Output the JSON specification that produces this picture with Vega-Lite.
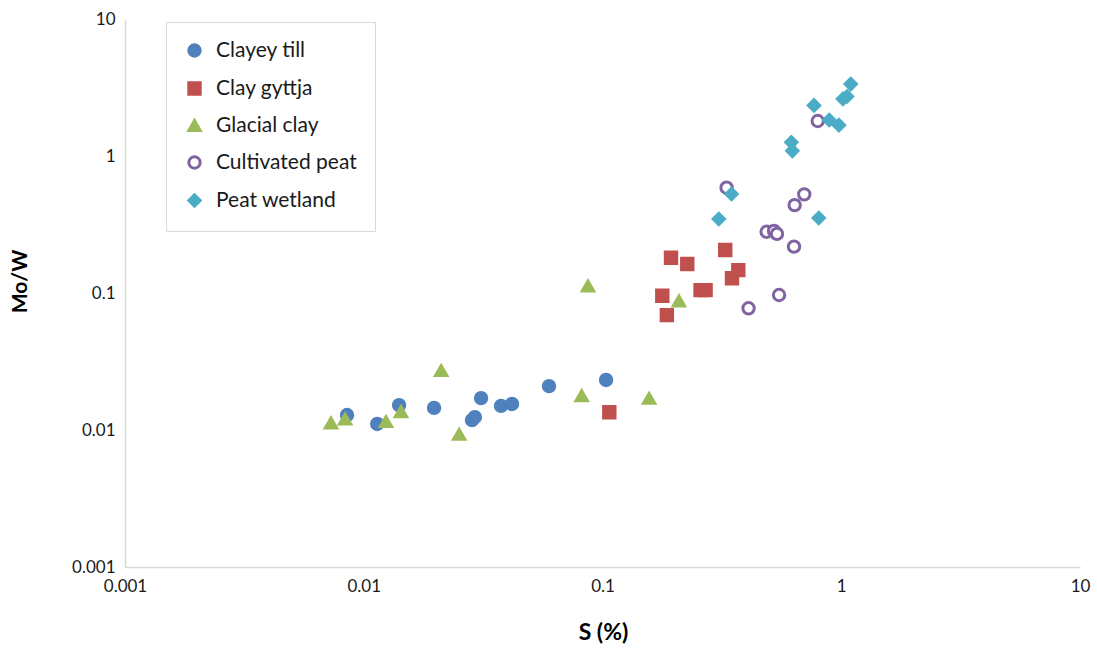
{
  "$schema": "https://vega.github.io/schema/vega-lite/v6.json",
  "width": 955,
  "height": 548,
  "autosize": {"type": "none"},
  "padding": {"left": 125, "top": 19, "right": 17, "bottom": 86},
  "background": "white",
  "config": {
    "view": {"stroke": null},
    "font": "Lato",
    "legend": {
      "orient": "none",
      "legendX": 41,
      "legendY": 3,
      "padding": 18,
      "strokeColor": "#d9d9d9",
      "fillColor": "white",
      "labelFontSize": 21,
      "labelFont": "Lato",
      "labelColor": "#1a1a1a",
      "symbolSize": 130,
      "symbolStrokeWidth": 3,
      "symbolOpacity": 1,
      "rowPadding": 13,
      "labelOffset": 11,
      "labelLimit": 300
    }
  },
  "data": {
    "values": [
      {"type": "Clayey till", "S": 0.00851, "MoW": 0.01286},
      {"type": "Clayey till", "S": 0.01139, "MoW": 0.01107},
      {"type": "Clayey till", "S": 0.01406, "MoW": 0.0152},
      {"type": "Clayey till", "S": 0.0197, "MoW": 0.0145},
      {"type": "Clayey till", "S": 0.0284, "MoW": 0.0118},
      {"type": "Clayey till", "S": 0.0292, "MoW": 0.0124},
      {"type": "Clayey till", "S": 0.031, "MoW": 0.0171},
      {"type": "Clayey till", "S": 0.0376, "MoW": 0.015},
      {"type": "Clayey till", "S": 0.0418, "MoW": 0.0155},
      {"type": "Clayey till", "S": 0.0597, "MoW": 0.0209},
      {"type": "Clayey till", "S": 0.1035, "MoW": 0.0232},
      {"type": "Clay gyttja", "S": 0.1936, "MoW": 0.181},
      {"type": "Clay gyttja", "S": 0.2265, "MoW": 0.163},
      {"type": "Clay gyttja", "S": 0.3266, "MoW": 0.206},
      {"type": "Clay gyttja", "S": 0.3705, "MoW": 0.147},
      {"type": "Clay gyttja", "S": 0.3486, "MoW": 0.128},
      {"type": "Clay gyttja", "S": 0.2575, "MoW": 0.105},
      {"type": "Clay gyttja", "S": 0.2703, "MoW": 0.105},
      {"type": "Clay gyttja", "S": 0.178, "MoW": 0.0956},
      {"type": "Clay gyttja", "S": 0.186, "MoW": 0.069},
      {"type": "Clay gyttja", "S": 0.1068, "MoW": 0.01346},
      {"type": "Glacial clay", "S": 0.00729, "MoW": 0.01125},
      {"type": "Glacial clay", "S": 0.00835, "MoW": 0.012},
      {"type": "Glacial clay", "S": 0.01239, "MoW": 0.0115},
      {"type": "Glacial clay", "S": 0.01432, "MoW": 0.0136},
      {"type": "Glacial clay", "S": 0.0211, "MoW": 0.0271},
      {"type": "Glacial clay", "S": 0.0251, "MoW": 0.0093},
      {"type": "Glacial clay", "S": 0.0818, "MoW": 0.0178},
      {"type": "Glacial clay", "S": 0.1567, "MoW": 0.017},
      {"type": "Glacial clay", "S": 0.0869, "MoW": 0.1125},
      {"type": "Glacial clay", "S": 0.209, "MoW": 0.0875},
      {"type": "Cultivated peat", "S": 0.331, "MoW": 0.587},
      {"type": "Cultivated peat", "S": 0.797, "MoW": 1.8},
      {"type": "Cultivated peat", "S": 0.7, "MoW": 0.525},
      {"type": "Cultivated peat", "S": 0.638, "MoW": 0.438},
      {"type": "Cultivated peat", "S": 0.487, "MoW": 0.28},
      {"type": "Cultivated peat", "S": 0.523, "MoW": 0.284},
      {"type": "Cultivated peat", "S": 0.538, "MoW": 0.27},
      {"type": "Cultivated peat", "S": 0.634, "MoW": 0.218},
      {"type": "Cultivated peat", "S": 0.549, "MoW": 0.0967},
      {"type": "Cultivated peat", "S": 0.409, "MoW": 0.0773},
      {"type": "Peat wetland", "S": 1.096, "MoW": 3.35},
      {"type": "Peat wetland", "S": 1.017, "MoW": 2.61},
      {"type": "Peat wetland", "S": 1.057, "MoW": 2.72},
      {"type": "Peat wetland", "S": 0.769, "MoW": 2.34},
      {"type": "Peat wetland", "S": 0.891, "MoW": 1.83},
      {"type": "Peat wetland", "S": 0.978, "MoW": 1.68},
      {"type": "Peat wetland", "S": 0.618, "MoW": 1.26},
      {"type": "Peat wetland", "S": 0.624, "MoW": 1.09},
      {"type": "Peat wetland", "S": 0.347, "MoW": 0.528},
      {"type": "Peat wetland", "S": 0.307, "MoW": 0.347},
      {"type": "Peat wetland", "S": 0.805, "MoW": 0.353}
    ]
  },
  "mark": {"type": "point", "opacity": 1, "strokeWidth": 3, "size": 130},
  "encoding": {
    "x": {
      "field": "S",
      "type": "quantitative",
      "scale": {"type": "log", "domain": [0.001, 10], "nice": false},
      "axis": {
        "title": "S (%)",
        "values": [0.001, 0.01, 0.1, 1, 10],
        "format": "~g",
        "grid": false,
        "ticks": false,
        "domainColor": "#d9d9d9",
        "domainWidth": 1.5,
        "labelFontSize": 17,
        "labelColor": "#1a1a1a",
        "labelPadding": 11,
        "labelFlush": false,
        "titleFontSize": 23,
        "titleFontWeight": "bold",
        "titleColor": "#000000",
        "titleX": 478,
        "titleY": 65,
        "titleBaseline": "middle",
        "titleAnchor": "middle"
      }
    },
    "y": {
      "field": "MoW",
      "type": "quantitative",
      "scale": {"type": "log", "domain": [0.001, 10], "nice": false},
      "axis": {
        "title": "Mo/W",
        "values": [0.001, 0.01, 0.1, 1, 10],
        "format": "~g",
        "grid": false,
        "ticks": false,
        "domainColor": "#d9d9d9",
        "domainWidth": 1.5,
        "labelFontSize": 17,
        "labelColor": "#1a1a1a",
        "labelPadding": 10,
        "labelFlush": false,
        "titleFontSize": 21,
        "titleFontWeight": "bold",
        "titleColor": "#000000",
        "titleX": -105,
        "titleY": 262,
        "titleAngle": -90,
        "titleBaseline": "middle",
        "titleAnchor": "middle"
      }
    },
    "shape": {
      "field": "type",
      "type": "nominal",
      "sort": null,
      "scale": {
        "domain": ["Clayey till", "Clay gyttja", "Glacial clay", "Cultivated peat", "Peat wetland"],
        "range": ["circle", "square", "triangle-up", "circle", "diamond"]
      },
      "legend": {"title": null}
    },
    "fill": {
      "field": "type",
      "type": "nominal",
      "sort": null,
      "scale": {
        "domain": ["Clayey till", "Clay gyttja", "Glacial clay", "Cultivated peat", "Peat wetland"],
        "range": ["#4F81BD", "#C0504D", "#9BBB59", "#ffffff", "#4BACC6"]
      },
      "legend": {"title": null}
    },
    "stroke": {
      "field": "type",
      "type": "nominal",
      "sort": null,
      "scale": {
        "domain": ["Clayey till", "Clay gyttja", "Glacial clay", "Cultivated peat", "Peat wetland"],
        "range": ["#4F81BD", "#C0504D", "#9BBB59", "#8064A2", "#4BACC6"]
      },
      "legend": {"title": null}
    }
  }
}
